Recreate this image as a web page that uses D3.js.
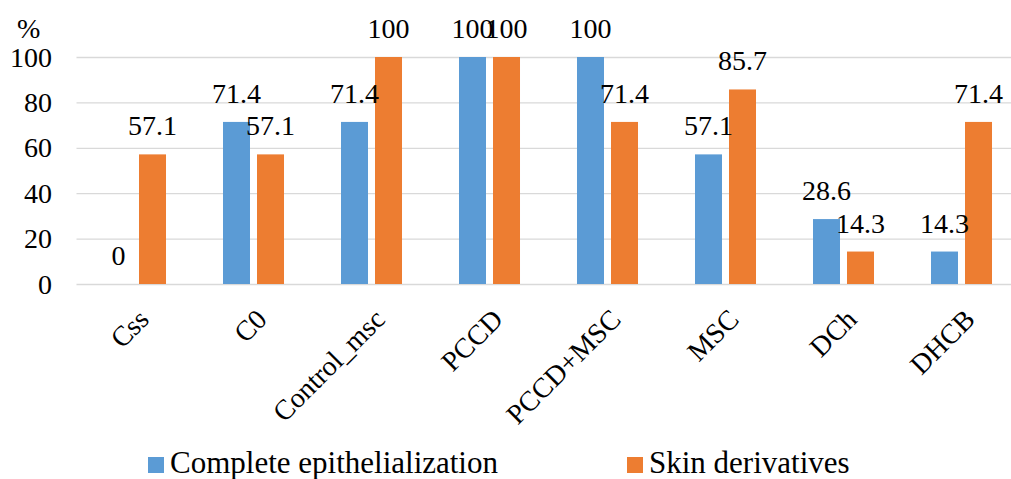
<!DOCTYPE html>
<html><head><meta charset="utf-8"><script src="https://cdn.jsdelivr.net/npm/d3@7/dist/d3.min.js"></script></head>
<body style="margin:0">
<svg id="s" width="1011" height="479"></svg>
<script>
const categories = ["Css", "C0", "Control_msc", "PCCD", "PCCD+MSC", "MSC", "DCh", "DHCB"];
const seriesNames = ["Complete epithelialization", "Skin derivatives"];
const completeEpithelialization = [0, 71.4, 71.4, 100, 100, 57.1, 28.6, 14.3];
const skinDerivatives = [57.1, 57.1, 100, 100, 71.4, 85.7, 14.3, 71.4];
const yTicks = [0, 20, 40, 60, 80, 100];
const colors = ["#5B9BD5", "#ED7D31"];

const seriesValues = [completeEpithelialization, skinDerivatives];
const FONT = "'Liberation Serif', monospace";

const svg = d3.select("#s");
const plotLeft = 76.5, plotRight = 1020.5, plotTop = 57, plotBottom = 284;

const x0 = d3.scaleBand().domain(categories).range([plotLeft, plotRight]).padding(0);
const x1 = d3.scaleBand().domain([0, 1]).range([0, x0.bandwidth()])
  .paddingInner(0.206).paddingOuter(0.838);
const y = d3.scaleLinear().domain([0, 100]).range([plotBottom, plotTop]);

// gridlines
svg.selectAll("line.grid").data(yTicks).join("line").attr("class", "grid")
  .attr("x1", plotLeft).attr("x2", plotRight)
  .attr("y1", d => y(d) + 0.5).attr("y2", d => y(d) + 0.5)
  .attr("stroke", "#D9D9D9").attr("stroke-width", 1.3);

// bars
const barData = [];
categories.forEach((c, ci) => [0, 1].forEach(si => barData.push({c, si, v: seriesValues[si][ci]})));
svg.selectAll("rect.bar").data(barData).join("rect").attr("class", "bar")
  .attr("x", d => x0(d.c) + x1(d.si)).attr("width", x1.bandwidth())
  .attr("y", d => y(d.v)).attr("height", d => y(0) - y(d.v))
  .attr("fill", d => colors[d.si]);

// y tick labels (positions from the scale)
svg.selectAll("text.ytick").data(yTicks).join("text").attr("class", "ytick")
  .attr("x", 52).attr("y", d => y(d) + 9.5)
  .attr("text-anchor", "end").attr("font-size", 28)
  .style("font-family", FONT).text(d => d);

svg.append("text").attr("x", 17).attr("y", 38).attr("font-size", 28)
  .style("font-family", FONT).text("%");

// value labels
svg.selectAll("text.val").data(barData).join("text").attr("class", "val")
  .attr("x", d => x0(d.c) + x1(d.si) + x1.bandwidth() / 2)
  .attr("y", d => y(d.v) - 19)
  .attr("text-anchor", "middle").attr("font-size", 28)
  .style("font-family", FONT).text(d => d.v);

// category labels
svg.selectAll("text.cat").data(categories).join("text").attr("class", "cat")
  .attr("text-anchor", "end").attr("font-size", 28)
  .style("font-family", FONT)
  .attr("transform", d => `translate(${x0(d) + x0.bandwidth() / 2 + 15},321) rotate(-45)`)
  .text(d => d);

// legend
const legendX = [148, 627];
svg.selectAll("rect.leg").data(seriesNames).join("rect").attr("class", "leg")
  .attr("x", (d, i) => legendX[i]).attr("y", 457).attr("width", 16).attr("height", 16)
  .attr("fill", (d, i) => colors[i]);
svg.selectAll("text.leg").data(seriesNames).join("text").attr("class", "leg")
  .attr("x", (d, i) => legendX[i] + 22).attr("y", 473).attr("font-size", 31)
  .style("font-family", FONT).text(d => d);
</script></body></html>
